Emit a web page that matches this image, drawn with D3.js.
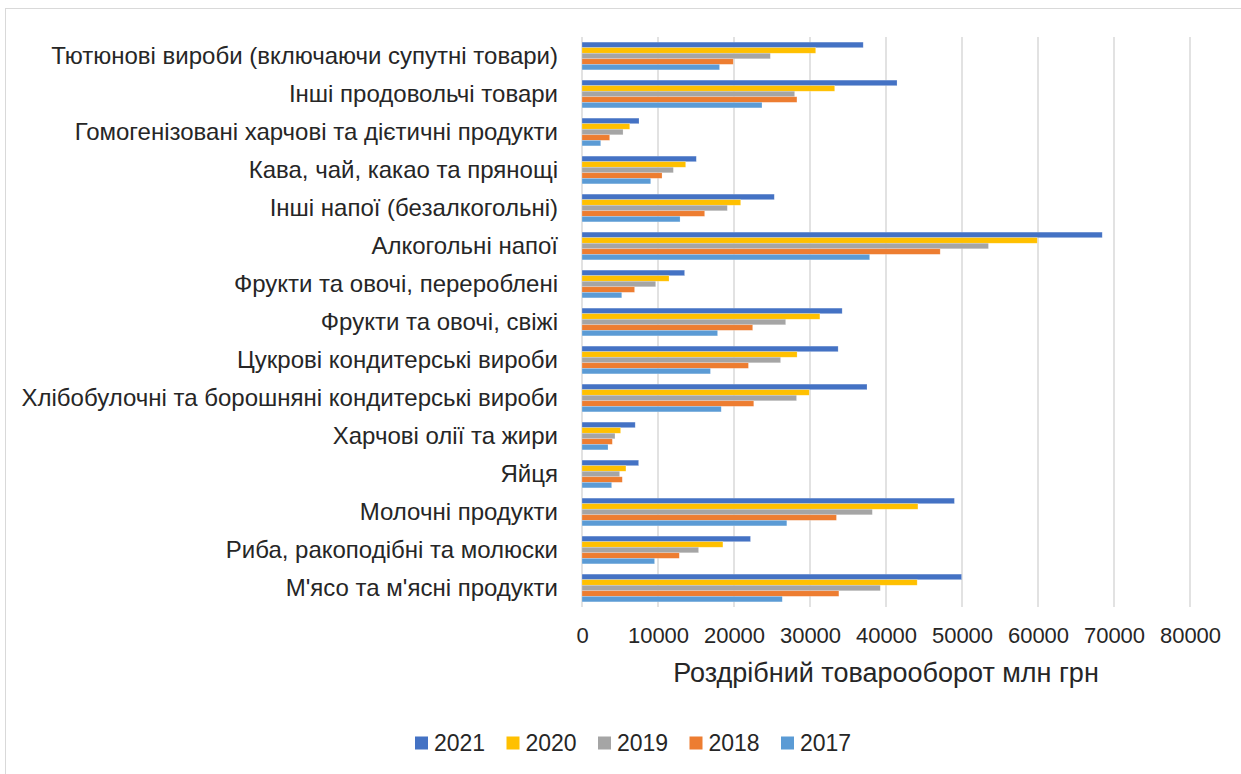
<!DOCTYPE html>
<html>
<head>
<meta charset="utf-8">
<script src="https://cdn.jsdelivr.net/npm/d3@7"></script>
<style>
  body { margin: 0; background: #fff; }
  text { font-family: "Liberation Sans", Arial, sans-serif; fill: #262626; }
</style>
</head>
<body>
<svg id="chart" width="1241" height="774"></svg>
<script>

var categories = [
	"Тютюнові вироби (включаючи супутні товари)",
	"Інші продовольчі товари",
	"Гомогенізовані харчові та дієтичні продукти",
	"Кава, чай, какао та прянощі",
	"Інші напої (безалкогольні)",
	"Алкогольні напої",
	"Фрукти та овочі, перероблені",
	"Фрукти та овочі, свіжі",
	"Цукрові кондитерські вироби",
	"Хлібобулочні та борошняні кондитерські вироби",
	"Харчові олії та жири",
	"Яйця",
	"Молочні продукти",
	"Риба, ракоподібні та молюски",
	"М'ясо та м'ясні продукти"
];

var years = ["2021", "2020", "2019", "2018", "2017"];

var v2021 = [37000, 41450, 7500, 15040, 25300, 68450, 13500, 34230, 33700, 37500, 7000, 7450, 49000, 22170, 49950];
var v2020 = [30750, 33250, 6280, 13640, 20880, 59900, 11450, 31300, 28300, 29900, 5080, 5780, 44200, 18540, 44100];
var v2019 = [24780, 27980, 5400, 12020, 19120, 53480, 9700, 26800, 26130, 28230, 4340, 4950, 38200, 15340, 39250];
var v2018 = [19900, 28280, 3640, 10530, 16140, 47130, 6920, 22460, 21900, 22600, 3990, 5300, 33480, 12800, 33800];
var v2017 = [18100, 23680, 2460, 9040, 12900, 37850, 5230, 17840, 16900, 18320, 3420, 3900, 26950, 9550, 26350];

var xTicks = [0, 10000, 20000, 30000, 40000, 50000, 60000, 70000, 80000];

var seriesValues = [v2021, v2020, v2019, v2018, v2017];
var colors = ["#4472C4", "#FFC000", "#A5A5A5", "#ED7D31", "#5B9BD5"];

var svg = d3.select("#chart");

// outer chart frame
svg.append("rect")
	.attr("x", 5.5).attr("y", 8.5)
	.attr("width", 1240).attr("height", 770)
	.attr("fill", "none")
	.attr("stroke", "#d9d9d9")
	.attr("stroke-width", 1);

var plot = { left: 582, right: 1190, top: 37, bottom: 607 };

var x = d3.scaleLinear()
	.domain([0, 80000])
	.range([plot.left, plot.right]);

var y = d3.scaleBand()
	.domain(categories)
	.range([plot.top, plot.bottom])
	.paddingInner(0.27)
	.paddingOuter(0.135);

var ySub = d3.scaleBand()
	.domain(years)
	.range([0, y.bandwidth()]);

// gridlines
svg.append("g")
	.selectAll("line")
	.data(xTicks)
	.enter()
	.append("line")
	.attr("x1", function (d) { return x(d); })
	.attr("x2", function (d) { return x(d); })
	.attr("y1", plot.top)
	.attr("y2", plot.bottom)
	.attr("stroke", "#d9d9d9")
	.attr("stroke-width", 1.5);

// bars
var groups = svg.append("g")
	.selectAll("g")
	.data(categories)
	.enter()
	.append("g")
	.attr("transform", function (d) { return "translate(0," + y(d) + ")"; });

groups.selectAll("rect")
	.data(function (d, i) {
		return years.map(function (yr, k) { return { year: yr, value: seriesValues[k][i], color: colors[k] }; });
	})
	.enter()
	.append("rect")
	.attr("x", x(0))
	.attr("y", function (d) { return ySub(d.year); })
	.attr("width", function (d) { return x(d.value) - x(0); })
	.attr("height", ySub.bandwidth())
	.attr("fill", function (d) { return d.color; })
	.attr("stroke", "#fff")
	.attr("stroke-opacity", 0.35)
	.attr("stroke-width", 0.6);

// category labels
svg.append("g")
	.selectAll("text")
	.data(categories)
	.enter()
	.append("text")
	.attr("x", 558)
	.attr("y", function (d) { return y(d) + y.bandwidth() / 2; })
	.attr("dy", "0.35em")
	.attr("text-anchor", "end")
	.style("font-size", "24px")
	.text(function (d) { return d; });

// x axis labels
var xAxis = d3.axisBottom(x)
	.tickValues(xTicks)
	.tickSize(0)
	.tickPadding(0)
	.tickFormat(function (d) { return String(d); });

var axisG = svg.append("g")
	.attr("transform", "translate(0," + 627 + ")")
	.call(xAxis);
axisG.select(".domain").remove();
axisG.selectAll("text")
	.style("font-size", "22px")
	.style("font-family", "'Liberation Sans', Arial, sans-serif")
	.attr("fill", "#262626");

svg.append("text")
	.attr("x", (plot.left + plot.right) / 2)
	.attr("y", 673)
	.attr("dy", "0.35em")
	.attr("text-anchor", "middle")
	.style("font-size", "27px")
	.text("Роздрібний товарооборот млн грн");

// legend
var legend = svg.append("g")
	.selectAll("g")
	.data(years)
	.enter()
	.append("g")
	.attr("transform", function (d, i) { return "translate(" + (415 + i * 91.5) + ",743)"; });

legend.append("rect")
	.attr("x", 0).attr("y", -6.5)
	.attr("width", 13).attr("height", 13)
	.attr("fill", function (d, i) { return colors[i]; });

legend.append("text")
	.attr("x", 19)
	.attr("y", 0)
	.attr("dy", "0.35em")
	.style("font-size", "23px")
	.text(function (d) { return d; });

</script>
</body>
</html>
